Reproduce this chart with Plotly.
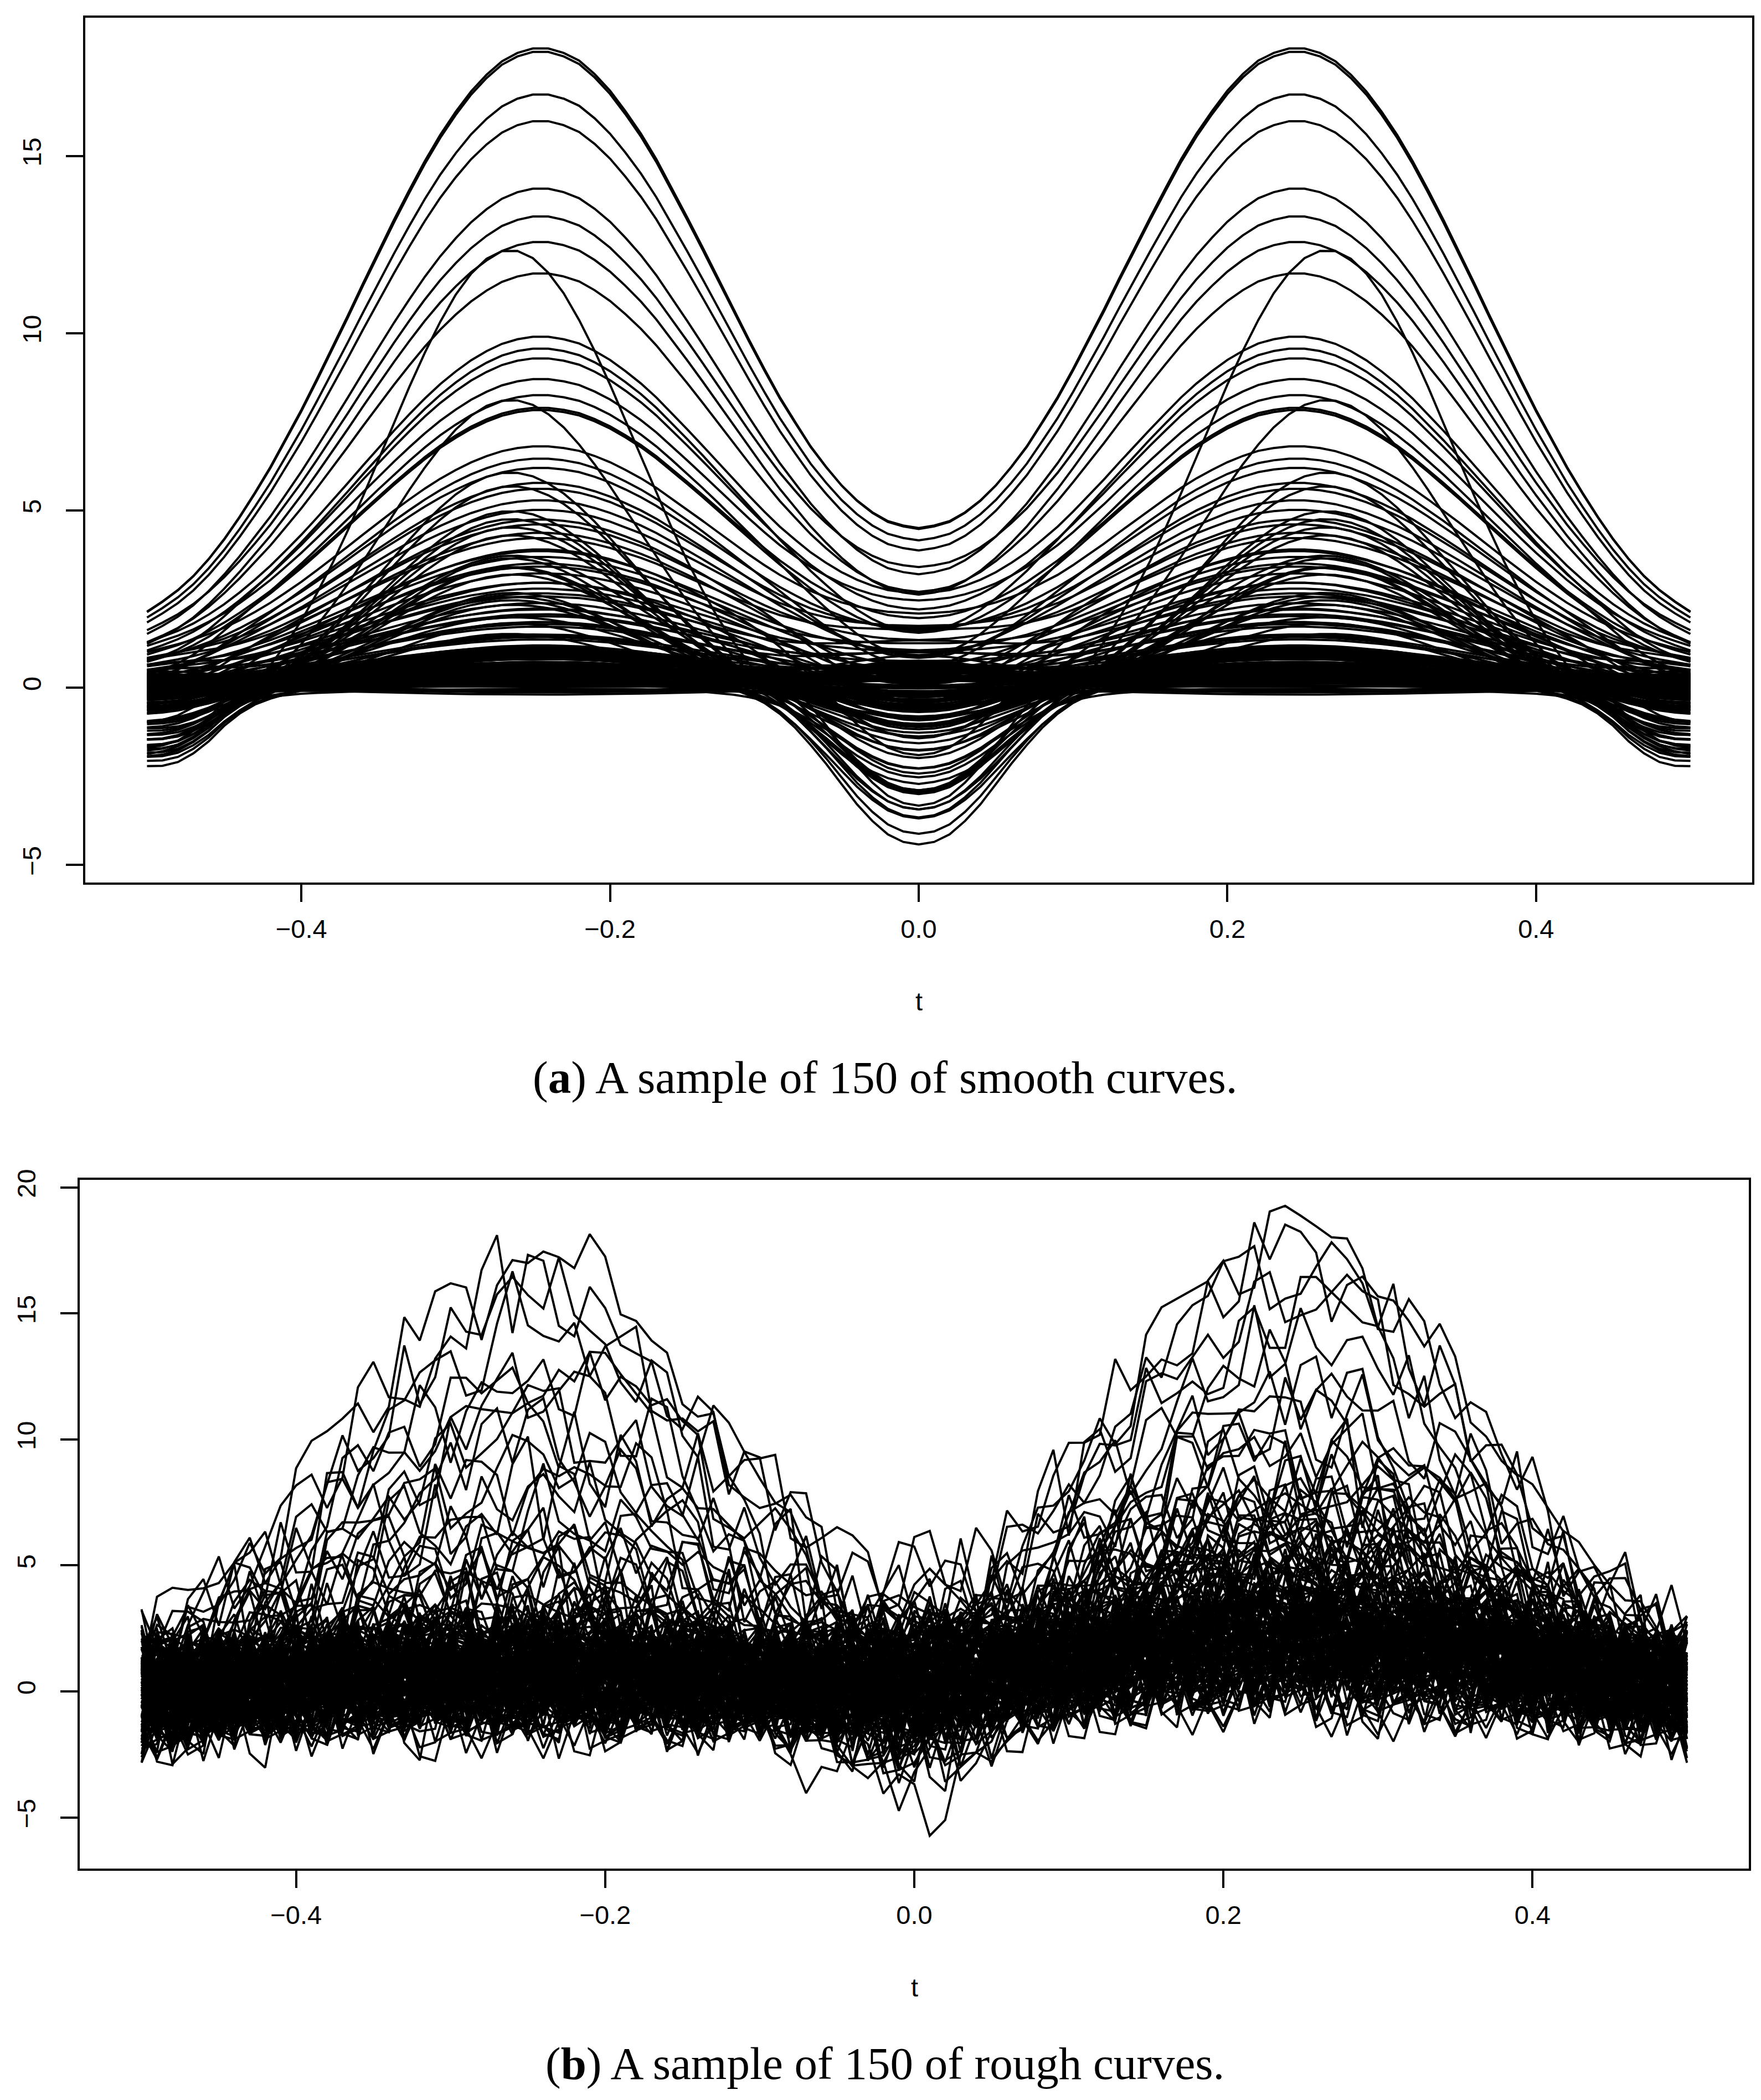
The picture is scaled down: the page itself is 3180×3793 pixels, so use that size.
import numpy as np
import plotly.graph_objects as go

# Sampling grid of the curves: t from -0.5 to 0.5, step 0.01.
T = np.linspace(-0.5, 0.5, 101)

# Shape of the left bump (t = -0.50 ... 0.50).
BUMP_LEFT = [
    0.118, 0.134, 0.152, 0.174, 0.201, 0.232, 0.267, 0.305, 0.345, 0.389,
    0.434, 0.482, 0.531, 0.581, 0.632, 0.682, 0.731, 0.778, 0.823, 0.864,
    0.900, 0.932, 0.958, 0.979, 0.992, 0.999, 0.999, 0.992, 0.979, 0.958,
    0.932, 0.900, 0.864, 0.823, 0.778, 0.731, 0.682, 0.632, 0.581, 0.531,
    0.482, 0.434, 0.389, 0.345, 0.305, 0.267, 0.232, 0.201, 0.172, 0.147,
    0.124,
    0.105, 0.087, 0.072, 0.060, 0.049, 0.040, 0.032, 0.026, 0.020, 0.016,
    0.013, 0.010, 0.008, 0.006, 0.004, 0.003, 0.003, 0.002, 0.001, 0.001,
    0.001, 0.001, 0.0, 0.0, 0.0, 0.0, 0.0, 0.0, 0.0, 0.0,
    0.0, 0.0, 0.0, 0.0, 0.0, 0.0, 0.0, 0.0, 0.0, 0.0,
    0.0, 0.0, 0.0, 0.0, 0.0, 0.0, 0.0, 0.0, 0.0, 0.0,
]
BUMP_RIGHT = BUMP_LEFT[::-1]

# Dip shape, t = 0.00 ... 0.50, mirrored.
DIP_HALF = [
    1.00, 0.985, 0.94, 0.86, 0.76, 0.64, 0.52, 0.41, 0.31, 0.23,
    0.17, 0.13, 0.10, 0.08, 0.065, 0.055, 0.048, 0.043, 0.040, 0.038,
    0.037, 0.036, 0.036, 0.035, 0.035, 0.035, 0.035, 0.036, 0.038, 0.040,
    0.042, 0.044, 0.046, 0.048, 0.050, 0.053, 0.057, 0.062, 0.068, 0.075,
    0.085, 0.10, 0.12, 0.15, 0.20, 0.27, 0.36, 0.43, 0.48, 0.50, 0.50,
]
# Narrow arch shape, t = 0.00 ... 0.50, mirrored.
ARCH_HALF = [
    -0.107, -0.104, -0.101, -0.096, -0.090, -0.081, -0.069, -0.054, -0.034, -0.010,
    0.021, 0.059, 0.104, 0.156, 0.217, 0.284, 0.359, 0.438, 0.521, 0.605,
    0.688, 0.766, 0.837, 0.899, 0.947, 0.981, 0.998, 0.998, 0.981, 0.947,
    0.899, 0.837, 0.766, 0.688, 0.605, 0.521, 0.438, 0.359, 0.284, 0.217,
    0.156, 0.104, 0.059, 0.021, -0.010, -0.034, -0.054, -0.069, -0.081, -0.090, -0.096,
]
DIP = DIP_HALF[::-1] + DIP_HALF[1:]
ARCH = ARCH_HALF[::-1] + ARCH_HALF[1:]

# Panel (a): bump height and dip depth of each smooth curve.
SMOOTH_BUMP = [
    18.05, 17.95, 16.75, 16.0, 14.1, 13.3, 12.6, 11.7, 9.9, 9.6,
    9.3, 8.7, 8.3, 7.9, 7.85, 6.8, 6.5, 6.2, 5.8, 5.6,
    5.3, 5.0, 4.8, 4.6, 4.4, 4.2, 4.0, 3.85, 3.7, 3.55,
    3.4, 3.25, 3.1, 2.95, 2.8, 2.7, 2.55, 2.4, 2.3, 2.2,
    2.1, 2.0, 1.9, 1.8, 1.7, 1.6, 1.5, 1.45, 1.35, 1.25,
    1.15, 0.95, 0.80, 1.05, 0.60, 0.40, 0.90, 0.25, 0.70, 1.10, 0.55,
    0.10, 0.85, 0.35, 1.00, 0.65, -0.10, 0.45, 0.75, 0.20, 0.95, 0.50,
    0.30, 1.20, 0.05, 0.60, 0.85, 0.15, 0.40, 1.05, -0.20, 0.70, 0.35,
    0.55, 0.90, 0.00, 0.45, 0.80, 0.25, 1.10, 0.65, -0.05, 0.50, 0.30,
    0.95, 0.15, 0.75, 0.40, 1.00, 0.20, 0.60, 0.85, 0.10, 0.35, 0.70,
    0.45, 1.15, -0.15, 0.55, 0.90, 0.30, 0.65, 0.05, 0.80, 0.25, 1.05,
    0.60, 0.20, 0.95, 0.40, 0.75, -0.10, 0.50, 0.85, 0.15, 0.70, 0.35,
    1.00, 0.45, 0.10,
]
SMOOTH_DIP = [
    0.0, 0.05, 0.0, -0.1, -0.3, 0.1, -0.5, -0.2, 0.2, -0.8,
    -0.1, 0.3, -1.2, 0.0, -0.4, 0.4, -1.0, 0.1, -0.6, 0.3,
    -0.4, 0.5, -1.6, 0.2, -0.9, 0.6, -2.9, 0.1, -0.3, -1.3,
    0.4, -0.7, -4.1, 0.3, -0.2, -1.1, 0.7, -0.5, -2.0, 0.2,
    -0.8, 0.5, -1.4, -0.1, 0.6, -3.3, 0.0, -0.6, 0.3, -1.7,
    0.30, -0.60, 0.10, -1.10, 0.50, -0.20, -0.90, 0.70, -4.60, -0.40, 0.20,
    -1.30, 0.00, -0.70, 0.40, -0.10, -0.50, 0.60, -1.00, 0.15, -3.90, -0.30,
    0.45, -0.80, 0.25, -1.20, -0.05, 0.55, -0.45, -3.70, 0.05, -0.65, 0.35,
    -0.15, -1.40, 0.65, -0.35, 0.10, -0.95, -3.20, 0.30, -0.55, 0.20, -1.15,
    -0.25, 0.50, -0.75, -3.00, 0.00, -0.40, 0.75, -1.05, 0.35, -0.20, -2.60,
    0.15, -0.85, 0.40, -0.10, -1.25, 0.60, -0.50, -2.30, 0.25, -0.70, 0.05,
    -0.35, 0.45, -1.35, 0.20, -0.60, 0.70, -0.15, -0.90, 0.55, -4.30, -0.05,
    0.35, -0.45, -1.05,
]
# Panel (a): the narrow arched curves.
ARCH_AMP = [12.1, 7.7, 5.9, 5.0, 4.4, 3.8, 3.3, 2.9, 2.5, 2.1, 1.7, 1.3,
            4.8, 4.0, 3.6, 3.0, 2.6, 2.2, 1.9, 1.5]
ARCH_BUMP = [0.3, 0.5, 0.2, 0.8, 0.4, 0.6, 0.1, 0.9, 0.3, 0.5, 0.2, 0.7,
             0.2, 0.6, 0.1, 0.4, 0.7, 0.3, 0.5, 0.0]
ARCH_DIP = [-1.5, -2.2, -0.8, -3.1, -1.2, -2.7, -0.5, -1.9, -3.5, -1.0, -2.4, -0.3,
            -0.6, -2.0, -1.4, 0.2, -2.9, -0.9, -1.7, 0.4]

# Panel (b): left bump, right bump and dip of each rough curve.
ROUGH_LEFT = [
    16.8, 16.2, 15.4, 14.6, 13.2, 12.5, 11.8, 11.0, 10.3, 9.6,
    9.0, 8.4, 7.9, 7.4, 6.9, 6.4, 6.0, 5.6, 5.2, 4.8, 4.5, 4.1, 3.8, 3.5, 3.2,
    3.0, 2.8, 2.6, 2.4, 2.3, 2.1, 2.0, 1.9, 1.8, 1.7, 1.6, 1.5, 1.4, 1.35, 1.3,
    1.2, 1.1, 1.05, 1.0, 0.9, 2.7, 2.2, 1.95, 1.75, 1.55, 1.25, 0.95, 0.85, 0.8, 0.7,
    3.1, 2.5, 1.45, 1.15, 0.75, 0.65, 0.6, 0.5, 2.9, 1.65,
    0.4, -0.2, 0.9, 0.1, 1.3, -0.5, 0.6, 0.2, 1.1, -0.1, 0.8, 0.3, -0.4, 1.4, 0.0, 0.7, 0.5,
    -0.3, 1.0, 0.2, 0.6, -0.6, 1.2, 0.4, -0.1, 0.9, 0.3, -0.4, 0.7, 1.5, 0.1, -0.2, 0.8, 0.5,
    1.1, -0.5, 0.3, 0.9, 0.0, 0.6, -0.3, 1.3, 0.2, 0.7, -0.1, 0.4, 1.0, -0.6, 0.5, 0.1, 0.8,
    0.2, 0.9, -0.4, 0.6, 1.2, 0.0, 0.4, -0.2, 0.7, 1.4, 0.3, -0.5, 0.5, 0.1, 1.0, -0.1, 0.6,
    -0.3, 0.8, 0.4, 1.1, -0.1, 0.5, 0.2, 0.9, -0.5, 0.3, 1.3, 0.0, 0.7, -0.2, 0.6, 1.0, 0.1,
]
ROUGH_RIGHT = [
    16.0, 17.6, 11.5, 16.9, 17.2, 9.0, 13.8, 11.2, 7.4, 12.6,
    10.0, 8.6, 14.9, 6.5, 9.3, 10.8, 7.0, 8.2, 5.9, 9.7, 7.3, 5.6, 8.0, 6.4, 6.9,
    5.8, 3.2, 6.2, 4.5, 2.8, 5.3, 3.9, 4.8, 2.6, 6.6, 3.5, 4.1, 5.0, 2.9, 3.7,
    4.4, 2.4, 5.6, 3.1, 4.0, 2.7, 4.9, 3.3, 6.0, 2.5, 3.8, 4.6, 2.2, 5.2, 3.4,
    4.2, 2.3, 3.6, 5.5, 2.9, 4.3, 3.0, 4.7, 3.9, 2.6,
    1.8, 2.6, 0.9, 3.1, 1.4, 2.2, 0.6, 2.9, 1.7, 0.4, 2.4, 1.2, 3.0, 0.8, 2.0, 1.5, 2.7,
    1.1, 2.3, 0.5, 1.9, 2.8, 1.3, 0.7, 2.5, 1.6, 3.2, 0.9, 2.1, 1.0, 2.6, 0.3, 1.8, 2.4,
    2.0, 0.8, 2.9, 1.4, 2.2, 0.6, 1.7, 3.0, 1.2, 2.5, 0.4, 1.9, 2.7, 1.1, 2.3, 0.9, 1.6,
    2.8, 1.3, 0.7, 2.1, 1.5, 3.1, 1.0, 2.4, 0.5, 1.8, 2.6, 1.2, 2.0, 0.8, 2.9, 1.6, 2.2,
    1.4, 2.7, 0.6, 1.9, 2.3, 1.1, 3.0, 0.9, 2.1, 1.7, 0.4, 2.5, 1.3, 2.8, 1.0, 2.0, 1.5,
]
ROUGH_DIP = [
    0.2, -0.5, -1.0, 0.4, -0.3, -1.6, 0.1, -0.8, 0.5, -2.2,
    -0.4, 0.0, -1.2, 0.6, -0.6, -2.8, 0.3, -1.0, -0.2, -3.3, 0.4, -0.9, -1.7, 0.1, -0.5,
    -0.3, 0.6, -1.1, 0.2, -0.7, 1.0, -1.9, 0.4, -0.2, -0.9, 0.8, -0.5, -2.4, 0.3, -1.3,
    0.7, 0.0, -0.6, 1.1, -1.5, 0.5, -0.1, -1.0, 0.9, -2.0, 0.2, -0.8, 1.2, -0.4, -1.2,
    0.6, -2.7, 0.1, -0.3, 0.8, -1.6, 0.4, -0.9, 0.0, -1.4,
    0.3, -0.8, 0.9, -0.2, -1.5, 0.6, -0.5, 1.2, -1.0, 0.1, -0.3, 0.7, -2.0, 0.4, -0.7, 1.0, -0.1,
    -1.2, 0.5, -0.4, 0.2, -4.2, 0.8, -0.9, 0.0, 1.3, -0.6, -1.7, 0.3, -0.2, 0.9, -1.1, 0.6, -0.3,
    0.1, -1.4, 0.7, -0.5, 1.1, -0.8, 0.4, -2.3, 0.2, -0.1, 0.8, -1.0, 0.5, -0.4, -3.6, 1.2, -0.7,
    -0.2, 0.6, -1.3, 0.3, -0.6, 1.0, -0.9, 0.0, 0.9, -1.6, 0.4, -0.3, 0.7, -1.9, 0.2, -0.5, 1.4,
    -0.8, 0.1, 0.6, -1.1, 0.3, -0.4, -2.6, 0.8, -0.1, 0.5, -1.2, 0.2, -0.6, 1.1, -0.3, -1.5, 0.4,
]
# Point-to-point jitter of the rough curves.
NOISE = [
    0.42, -1.13, 0.87, -0.25, 1.56, -0.71, 0.05, -1.62, 0.94, 0.31,
    -0.48, 1.21, -0.92, 0.18, -0.36, 1.74, -1.05, 0.63, -0.14, -0.83,
    1.02, 0.27, -1.41, 0.76, -0.58, 0.11, 1.38, -0.67, -0.22, 0.89,
    -1.27, 0.46, 0.03, -0.95, 1.15, -0.39, 0.71, -1.78, 0.52, 0.24,
    -0.61, 1.47, -0.08, -1.19, 0.68, 0.35, -0.74, 1.09, -0.29, 0.57,
    -1.36, 0.15, 0.99, -0.51, -0.03, 1.28, -0.88, 0.41, -1.52, 0.79,
    0.21, -0.44, 1.63, -0.97, 0.09, -0.33, 0.84, -1.08, 0.55, -0.17,
    1.19, -0.64, 0.37, -1.24, 0.02, 0.93, -0.79, 1.41, -0.46, 0.13,
    -1.01, 0.66, 0.29, -1.69, 1.07, -0.21, 0.48, -0.86, 1.33, -0.12,
    -0.57, 0.81, -1.31, 0.39, 0.06, -0.72, 1.52, -0.35, 0.61, -1.14,
    0.26, 0.97, -0.53, -0.09, 1.24, -0.91, 0.44, -1.45, 0.73, 0.17,
    -0.31, 1.11, -0.77, 0.58, -1.58, 0.33, 0.86, -0.42, -0.19, 1.36,
    -1.03, 0.22, -0.65, 0.91, -1.21, 0.49, 0.07, -0.82, 1.67, -0.27,
    0.64, -1.39, 0.19, 1.04, -0.56, -0.06, 1.26, -0.99, 0.36, -1.49,
    0.82, 0.14, -0.38, 1.17, -0.69, 0.53, -1.22, 0.28, 0.92, -0.47,
    -0.15, 1.43, -0.85, 0.45, -1.66, 0.74, 0.23, -0.54, 1.58, -0.93,
    0.12, -0.26, 0.88, -1.16, 0.59, -0.11, 1.23, -0.62, 0.34, -1.29,
    0.04, 0.96, -0.76, 1.31, -0.43, 0.16, -1.06, 0.69, 0.32, -1.55,
    1.01, -0.18, 0.51, -0.89, 1.39, -0.13, -0.59, 0.78, -1.33, 0.43,
    0.08, -0.73, 1.49, -0.37, 0.62, -1.11, 0.25, 0.98, -0.52,
]
NOISE_SCALE = 1.3

X_TICKS = [-0.4, -0.2, 0.0, 0.2, 0.4]
X_LABELS = ["\u22120.4", "\u22120.2", "0.0", "0.2", "0.4"]
Y_TICKS_A = [-5, 0, 5, 10, 15]
Y_TICKS_B = [-5, 0, 5, 10, 15, 20]

bump_l = np.array(BUMP_LEFT)
bump_r = np.array(BUMP_RIGHT)
dip = np.array(DIP)
arch = np.array(ARCH)
noise = np.array(NOISE) * NOISE_SCALE

fig = go.Figure()
line_style = dict(color="black", width=4)

# Smooth curves.
for w, c in zip(SMOOTH_BUMP, SMOOTH_DIP):
    y = w * (bump_l + bump_r) + c * dip
    fig.add_trace(go.Scatter(x=T, y=y, mode="lines", line=line_style,
                             xaxis="x", yaxis="y", hoverinfo="skip"))
for a, w, c in zip(ARCH_AMP, ARCH_BUMP, ARCH_DIP):
    y = a * arch + w * (bump_l + bump_r) + c * dip
    fig.add_trace(go.Scatter(x=T, y=y, mode="lines", line=line_style,
                             xaxis="x", yaxis="y", hoverinfo="skip"))

# Rough curves.
steps = np.arange(len(T))
for i, (wl, wr, c) in enumerate(zip(ROUGH_LEFT, ROUGH_RIGHT, ROUGH_DIP)):
    jitter = noise[(i * 53 + steps * 7) % len(noise)]
    y = wl * bump_l + wr * bump_r + c * dip + jitter
    fig.add_trace(go.Scatter(x=T, y=y, mode="lines", line=line_style,
                             xaxis="x2", yaxis="y2", hoverinfo="skip"))

W, H = 3180, 3793
tick_font = dict(family="Liberation Sans, Arial, sans-serif", size=47, color="black")
axis_common = dict(showline=True, mirror=True, linecolor="black", linewidth=4,
                   ticks="outside", ticklen=31, tickwidth=4, tickcolor="black",
                   showgrid=False, zeroline=False, tickfont=tick_font,
                   automargin=False)

fig.update_layout(
    width=W, height=H,
    margin=dict(l=0, r=0, t=0, b=0),
    paper_bgcolor="white", plot_bgcolor="white",
    showlegend=False,
    xaxis=dict(domain=[146 / W, 3156 / W], range=[-0.54, 0.54],
               tickvals=X_TICKS, ticktext=X_LABELS, anchor="y",
               ticklabelstandoff=9, **axis_common),
    yaxis=dict(domain=[1 - 1586 / H, 1 - 24 / H], range=[-5.5, 18.9],
               tickvals=Y_TICKS_A, tickangle=-90, anchor="x",
               ticklabelstandoff=26, **axis_common),
    xaxis2=dict(domain=[136 / W, 3150 / W], range=[-0.54, 0.54],
                tickvals=X_TICKS, ticktext=X_LABELS, anchor="y2",
                ticklabelstandoff=9, **axis_common),
    yaxis2=dict(domain=[1 - 3367 / H, 1 - 2123 / H], range=[-7.03, 20.3],
                tickvals=Y_TICKS_B, tickangle=-90, anchor="x2",
                ticklabelstandoff=26, **axis_common),
)

caption_font = dict(family="Liberation Serif, Times New Roman, serif", size=83, color="black")
fig.add_annotation(text="t", xref="x", x=0, yref="paper", y=1 - 1800 / H,
                   showarrow=False, font=tick_font, yanchor="middle")
fig.add_annotation(text="t", xref="x2", x=0, yref="paper", y=1 - 3581 / H,
                   showarrow=False, font=tick_font, yanchor="middle")
fig.add_annotation(text="(<b>a</b>) A sample of 150 of smooth curves.",
                   xref="paper", x=0.5, yref="paper", y=1 - 1938 / H,
                   showarrow=False, font=caption_font, yanchor="middle")
fig.add_annotation(text="(<b>b</b>) A sample of 150 of rough curves.",
                   xref="paper", x=0.5, yref="paper", y=1 - 3719 / H,
                   showarrow=False, font=caption_font, yanchor="middle")

fig.write_html("out.html")
